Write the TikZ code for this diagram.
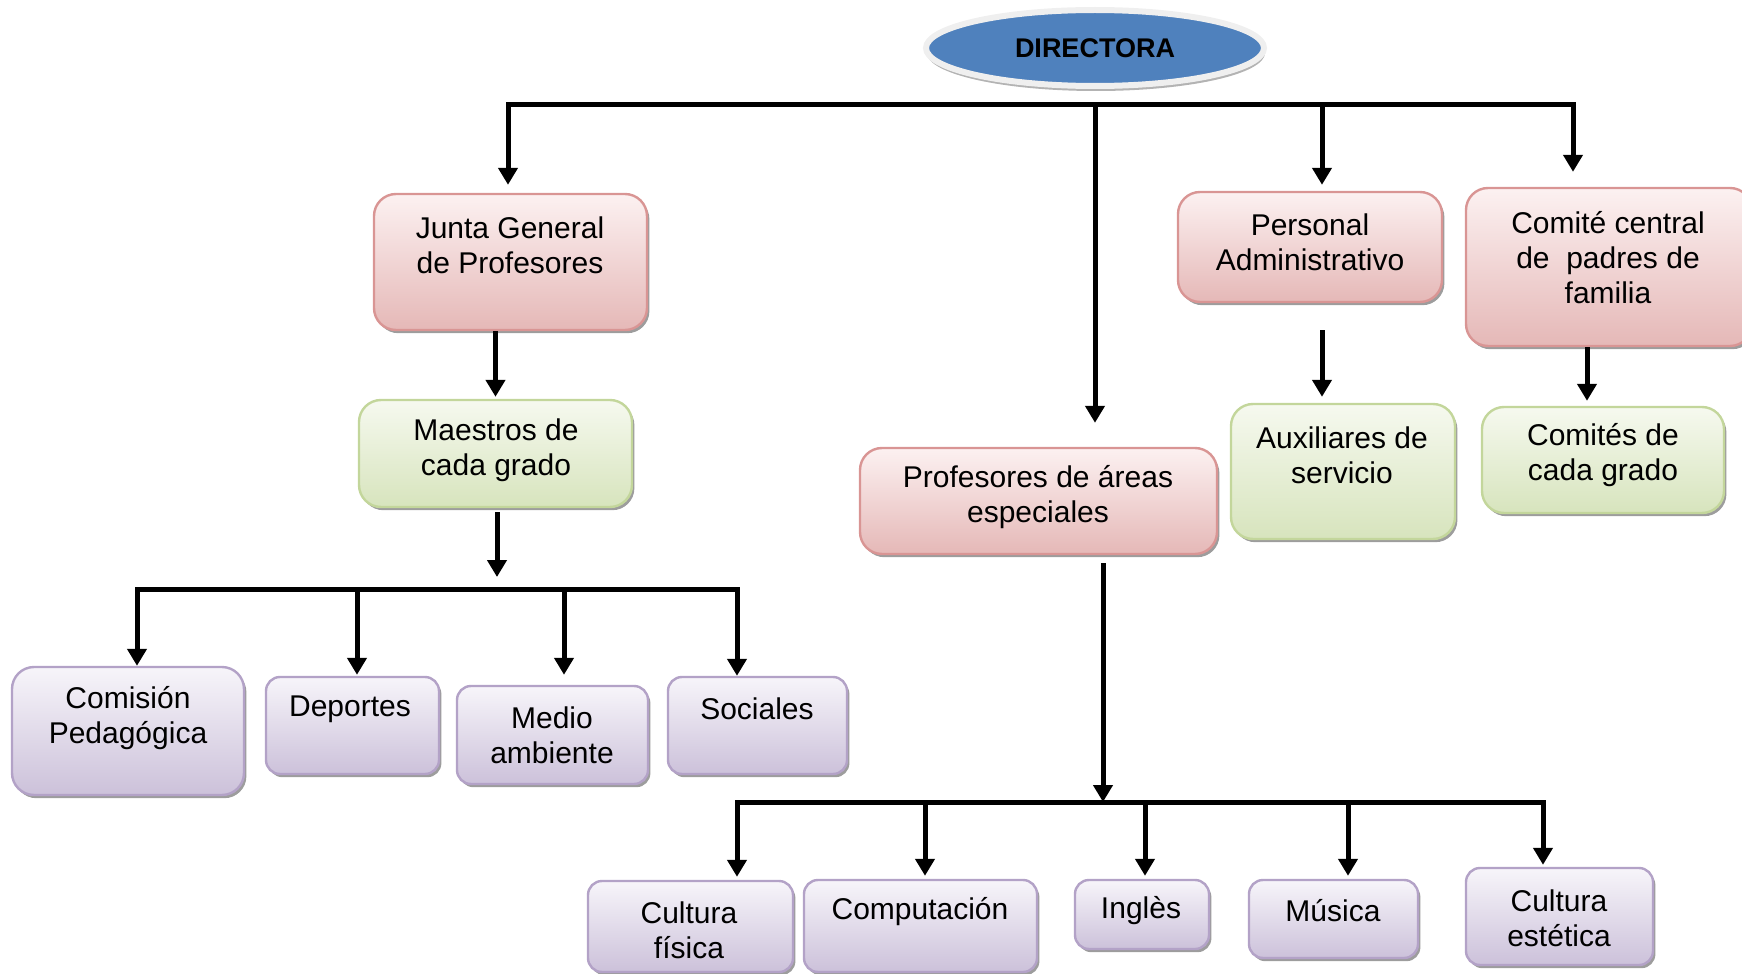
\documentclass[tikz,border=0pt]{standalone}
\usepackage{fontspec}
\setmainfont{Liberation Sans}
\usetikzlibrary{arrows.meta,shapes.geometric,shadows,fit}
\definecolor{redtop}{HTML}{FCF1F1}
\definecolor{redbot}{HTML}{E5B8B7}
\definecolor{redbd}{HTML}{D99594}
\definecolor{grntop}{HTML}{F6F9EF}
\definecolor{grnbot}{HTML}{D7E4BD}
\definecolor{grnbd}{HTML}{C3D69B}
\definecolor{purtop}{HTML}{F7F5FA}
\definecolor{purbot}{HTML}{CCC1DA}
\definecolor{purbd}{HTML}{B3A2C7}
\definecolor{dirblue}{HTML}{4F81BD}
\definecolor{ringgray}{HTML}{EFEFEF}
\begin{document}
\begin{tikzpicture}[x=0.5pt,y=-0.5pt,
  box/.style={rounded corners=11pt, line width=1.2pt, inner sep=0pt,
    drop shadow={shadow xshift=1.2pt, shadow yshift=-1.6pt, fill=black!55, opacity=0.7}},
  smallbox/.style={box, rounded corners=7pt},
  redbox/.style={draw=redbd, top color=redtop, bottom color=redbot},
  grnbox/.style={draw=grnbd, top color=grntop, bottom color=grnbot},
  purbox/.style={draw=purbd, top color=purtop, bottom color=purbot},
  txt/.style={align=center, font=\fontsize{15}{17.5}\selectfont, inner sep=0pt, text=black},
  bus/.style={line width=2.5pt, line cap=rect},
  arr/.style={line width=2.5pt, -{Triangle[width=9.5pt,length=8.5pt]}},
]
\useasboundingbox (0,0) rectangle (1742,974);

% ---------- top ----------
\node[ellipse, minimum width=169pt, minimum height=38pt, fill=dirblue, draw=ringgray, line width=3pt,
  drop shadow={shadow xshift=0.5pt, shadow yshift=-2.5pt, fill=black!50, opacity=0.6},
  font=\bfseries\fontsize{13.5}{16}\selectfont] (directora) at (1095,48) {DIRECTORA};

% ---------- boxes ----------
\node[box, redbox, fit={(374,194) (647,330)}] (junta) {};
\node[txt] (juntat) at (510,245) {Junta General\\de Profesores};

\node[box, redbox, fit={(1178,192) (1442,302)}] (personal) {};
\node[txt] (personalt) at (1310,242) {Personal\\Administrativo};

\node[box, redbox, fit={(1466,188) (1752,346)}] (comite) {};
\node[txt] (comitet) at (1608,258) {Comité central\\de~ padres de\\familia};

\node[box, grnbox, fit={(359,400) (632,507)}] (maestros) {};
\node[txt] (maestrost) at (496,450) {Maestros de\\cada grado};

\node[box, redbox, fit={(860,448) (1217,554)}] (profesores) {};
\node[txt] (profesorest) at (1038,497) {Profesores de áreas\\especiales};

\node[box, grnbox, fit={(1231,404) (1455,539)}] (auxiliares) {};
\node[txt] (auxiliarest) at (1342,455) {Auxiliares de\\servicio};

\node[box, grnbox, fit={(1482,407) (1724,513)}] (comites) {};
\node[txt] (comitest) at (1603,455) {Comités de\\cada grado};

\node[box, purbox, fit={(12,667) (244,795)}] (comision) {};
\node[txt] (comisiont) at (128,718) {Comisión\\Pedagógica};

\node[smallbox, purbox, fit={(266,677) (439,774)}] (deportes) {};
\node[txt] (deportest) at (350,709) {Deportes};

\node[smallbox, purbox, fit={(457,686) (648,784)}] (medio) {};
\node[txt] (mediot) at (552,735) {Medio\\ambiente};

\node[smallbox, purbox, fit={(668,677) (847,774)}] (sociales) {};
\node[txt] (socialest) at (757,709) {Sociales};

\node[smallbox, purbox, fit={(588,881) (793,972)}] (cfisica) {};
\node[txt] (cfisicat) at (689,930) {Cultura\\física};

\node[smallbox, purbox, fit={(804,880) (1037,972)}] (computacion) {};
\node[txt] (computaciont) at (920,912) {Computación};

\node[smallbox, purbox, fit={(1075,880) (1209,949)}] (ingles) {};
\node[txt] (inglest) at (1141,911) {Inglès};

\node[smallbox, purbox, fit={(1249,880) (1418,958)}] (musica) {};
\node[txt] (musicat) at (1333,911) {Música};

\node[smallbox, purbox, fit={(1466,868) (1653,965)}] (cestetica) {};
\node[txt] (cesteticat) at (1559,918) {Cultura\\estética};

% ---------- top bus ----------
\coordinate (busA1) at (508,105);
\coordinate (busA2) at (1322,105);
\coordinate (busA3) at (1573,105);
\coordinate (cc) at (1587,348);
\draw[bus] (busA1) -- (busA3);
\draw[arr, shorten <=7pt, shorten >=12pt] (directora.south) -- (directora.south |- profesores.north);
\draw[arr, shorten >=4pt] (busA1) -- (busA1 |- junta.north);
\draw[arr, shorten >=3pt] (busA2) -- (busA2 |- personal.north);
\draw[arr, shorten >=7.5pt] (busA3) -- (busA3 |- comite.north);

\draw[arr, shorten <=13.5pt, shorten >=3pt] (personal.south -| busA2) -- (busA2 |- auxiliares.north);
\draw[arr, shorten >=2.5pt] (comite.south -| cc) -- (cc |- comites.north);
\draw[arr, shorten >=1pt] (junta.south -| maestros.north) -- (maestros.north);

% ---------- left bus ----------
\coordinate (busB0) at (497,589);
\coordinate (busB1) at (137,589);
\coordinate (busB2) at (357,589);
\coordinate (busB3) at (564,589);
\coordinate (busB4) at (737,589);
\draw[arr, shorten <=2pt, shorten >=6pt] (maestros.south -| busB0) -- (busB0);
\draw[bus] (busB1) -- (busB4);
\draw[arr] (busB1) -- (busB1 |- comision.north);
\draw[arr, shorten >=0.5pt] (busB2) -- (busB2 |- deportes.north);
\draw[arr, shorten >=5pt] (busB3) -- (busB3 |- medio.north);
\draw[arr] (busB4) -- (busB4 |- sociales.north);

% ---------- bottom bus ----------
\coordinate (busC0) at (1103,802);
\coordinate (busC1) at (737,802);
\coordinate (busC2) at (925,802);
\coordinate (busC3) at (1145,802);
\coordinate (busC4) at (1348,802);
\coordinate (busC5) at (1543,802);
\draw[arr, shorten <=4pt] (profesores.south -| busC0) -- (busC0);
\draw[bus] (busC1) -- (busC5);
\draw[arr, shorten >=1.5pt] (busC1) -- (busC1 |- cfisica.north);
\draw[arr, shorten >=1.5pt] (busC2) -- (busC2 |- computacion.north);
\draw[arr, shorten >=1.5pt] (busC3) -- (busC3 |- ingles.north);
\draw[arr, shorten >=1.5pt] (busC4) -- (busC4 |- musica.north);
\draw[arr, shorten >=1pt] (busC5) -- (busC5 |- cestetica.north);
\end{tikzpicture}
\end{document}
